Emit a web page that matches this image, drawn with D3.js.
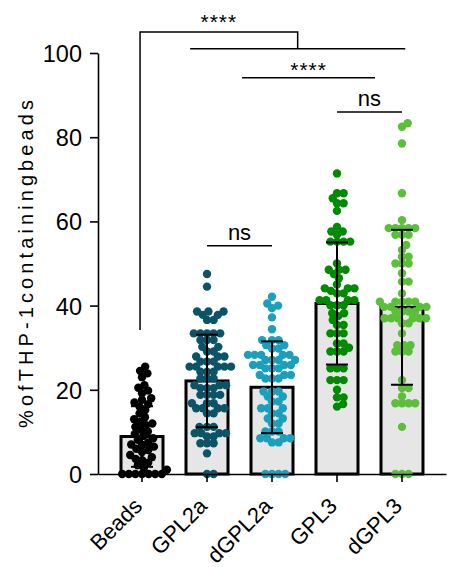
<!DOCTYPE html>
<html>
<head>
<meta charset="utf-8">
<script src="https://cdn.jsdelivr.net/npm/d3@7"></script>
<style>
  html, body { margin: 0; padding: 0; background: #fff; }
  svg { display: block; font-family: "Liberation Sans", Arial, sans-serif; }
</style>
</head>
<body>
<svg id="chart" width="455" height="567"></svg>
<script>
// ---------------- data ----------------
const categories = ["Beads", "GPL2a", "dGPL2a", "GPL3", "dGPL3"];
const colors = ["#000000", "#0b5367", "#1aa0bd", "#008a00", "#5cbf3a"];

const beadsValues = [25.5, 24.5, 23.9, 23.0, 21.1, 20.5, 19.8, 19.2, 18.0, 17.6, 17.0, 16.6,
  16.0, 15.2, 14.4, 13.5, 13.0, 12.4, 12.0, 11.6, 11.2, 10.5, 10.1, 9.5, 9.0, 8.5, 8.1,
  7.5, 7.0, 6.9, 6.5, 6.0, 5.7, 5.2, 4.5, 4.0, 3.6, 3.3, 2.7, 2.1, 1.5, 1.0,
  0, 0, 0, 0, 0, 0, 0];
const gpl2aValues = [47.5, 44.5, 38.6, 38.6, 38.6, 37.8, 37.8, 36.6, 36.6, 33.4, 33.4, 33.4,
  33.4, 33.4, 31.8, 31.8, 31.8, 30.2, 30.2, 29.1, 29.1, 27.9, 27.9, 27.9, 26.7, 26.7, 26.7,
  25.5, 25.5, 25.5, 25.5, 25.5, 24.3, 24.3, 24.3, 22.7, 22.7, 22.7, 21.1, 21.1, 21.1,
  20.4, 20.4, 20.4, 18.8, 18.8, 18.8, 18.8, 16.8, 16.8, 16.8, 15.6, 15.6, 15.6, 15.6,
  14.4, 14.4, 11.2, 11.2, 11.2, 9.7, 9.7, 9.7, 9.7, 8.9, 8.9, 7.3, 7.3, 7.3, 4.9, 0, 0];
const dgpl2aValues = [42.1, 40.5, 40.0, 39.4, 37.2, 34.4, 31.8, 31.8, 31.8, 30.6, 30.6, 29.8,
  29.8, 28.3, 28.3, 28.3, 28.3, 28.3, 27.1, 27.1, 27.1, 27.1, 25.9, 25.9, 25.9, 25.9,
  25.1, 25.1, 25.1, 23.5, 23.5, 23.5, 22.7, 22.7, 22.7, 19.6, 19.6, 19.6, 18.4, 18.4,
  17.2, 17.2, 15.6, 15.6, 15.6, 14.4, 14.4, 13.2, 13.2, 12.0, 12.0, 10.1, 10.1, 10.1,
  8.5, 8.5, 8.5, 8.5, 7.5, 7.5, 0, 0, 0, 0];
const gpl3Values = [71.4, 66.7, 66.7, 65.5, 64.3, 64.3, 62.5, 58.7, 57.6, 57.6, 56.8,
  55.2, 55.2, 55.2, 55.2, 50.0, 48.5, 48.5, 48.5, 47.5, 46.5, 45.0, 44.1, 44.1, 44.1,
  43.5, 42.9, 42.9, 41.3, 41.3, 41.3, 41.3, 40.1, 40.1, 40.1, 38.2, 38.2, 37.5, 36.6,
  35.4, 35.4, 33.4, 33.4, 33.4, 31.0, 31.0, 30.0, 29.1, 29.1, 29.1, 25.1, 25.1, 25.1,
  22.3, 22.3, 22.3, 20.0, 18.2, 18.2, 16.0, 16.6];
const dgpl3Values = [83.3, 82.5, 78.5, 66.7, 60.3, 58.4, 58.4, 58.4, 58.4, 58.4, 56.8, 56.8,
  56.8, 54.4, 53.2, 51.6, 51.6, 50.0, 50.0, 50.0, 47.7, 45.7, 45.7, 42.9, 40.9, 40.9,
  40.9, 40.9, 40.9, 39.7, 39.7, 39.7, 39.7, 38.6, 38.6, 38.6, 38.6, 37.0, 37.0, 37.0,
  37.0, 37.0, 37.0, 35.8, 35.8, 33.4, 30.6, 30.6, 30.6, 29.1, 29.1, 29.1, 22.3, 20.4,
  20.4, 18.4, 16.8, 16.8, 16.8, 16.8, 11.2, 0, 0, 0];
const groupValues = [beadsValues, gpl2aValues, dgpl2aValues, gpl3Values, dgpl3Values];

const barMeans = [8.9, 22.1, 20.6, 40.5, 39.6];
const barSDs = [7.2, 11.0, 10.9, 14.5, 18.4];

const yTicks = [0, 20, 40, 60, 80, 100];
const yLabel = "%ofTHP-1containingbeads";

// comparisons: ends given as (fractional) category indices, level in data units
const pairComparisons = [
  { from: 1.54, to: 3.585, label: "****", level: 94.1 },
  { from: 3, to: 4, label: "ns", level: 86.0 },
  { from: 1, to: 2, label: "ns", level: 54.2 }
];
// Beads vs all other groups
const groupComparison = { ref: -0.03, refLow: 34.2, from: 0.74, to: 4.05, label: "****",
  level: 105.0, groupLevel: 101.0 };

// ---------------- layout ----------------
const svg = d3.select("#chart");
const x = d3.scaleBand().domain(categories).range([98, 446]).paddingInner(0).paddingOuter(0.177);
const y = d3.scaleLinear().domain([0, 100]).range([474, 53]);
const cx = c => x(c) + x.bandwidth() / 2;
const idxX = d3.scaleLinear().domain([0, categories.length - 1])
  .range([cx(categories[0]), cx(categories[categories.length - 1])]);

const barW = 42, capW = 22, dotR = 4.2, swarmD = 6.6;

// bars
svg.append("g").selectAll("rect").data(categories).join("rect")
  .attr("x", d => cx(d) - barW / 2)
  .attr("y", (d, i) => y(barMeans[i]))
  .attr("width", barW)
  .attr("height", (d, i) => y(0) - y(barMeans[i]))
  .attr("fill", "#e6e6e6")
  .attr("stroke", "#000")
  .attr("stroke-width", 3);

// beeswarm
function swarm(vals, center) {
  const pts = vals.map(v => ({ v, py: y(v) })).sort((a, b) => a.v - b.v);
  const placed = [];
  pts.forEach(p => {
    const near = placed.filter(q => Math.abs(q.py - p.py) < swarmD);
    const cands = [0];
    near.forEach(q => {
      const dx = Math.sqrt(swarmD * swarmD - (q.py - p.py) ** 2);
      cands.push(q.dx + dx, q.dx - dx);
    });
    cands.sort((a, b) => Math.abs(a) - Math.abs(b) || b - a);
    let best = 0;
    for (const c of cands) {
      if (near.every(q => Math.hypot(q.dx - c, q.py - p.py) >= swarmD - 1e-6)) { best = c; break; }
    }
    p.dx = best;
    placed.push(p);
  });
  return placed.map(p => ({ x: center + p.dx, y: p.py }));
}

categories.forEach((c, i) => {
  const pts = swarm(groupValues[i], cx(c));
  svg.append("g").selectAll("circle").data(pts).join("circle")
    .attr("cx", d => d.x).attr("cy", d => d.y).attr("r", dotR)
    .attr("fill", colors[i]);
});

// error bars
const eb = svg.append("g").attr("stroke", "#000").attr("stroke-width", 2).attr("fill", "none");
categories.forEach((c, i) => {
  const hi = y(barMeans[i] + barSDs[i]), lo = y(barMeans[i] - barSDs[i]);
  eb.append("line").attr("x1", cx(c)).attr("x2", cx(c)).attr("y1", hi).attr("y2", lo);
  eb.append("line").attr("x1", cx(c) - capW / 2).attr("x2", cx(c) + capW / 2).attr("y1", hi).attr("y2", hi);
  eb.append("line").attr("x1", cx(c) - capW / 2).attr("x2", cx(c) + capW / 2).attr("y1", lo).attr("y2", lo);
});

// axes
const yAxis = svg.append("g").attr("transform", "translate(98,0)")
  .call(d3.axisLeft(y).tickValues(yTicks).tickSize(8).tickPadding(8).tickSizeOuter(0));
const xAxis = svg.append("g").attr("transform", `translate(0,${y(0)})`)
  .call(d3.axisBottom(x).tickSize(8).tickSizeOuter(0));
[yAxis, xAxis].forEach(g => {
  g.selectAll("path, line").attr("stroke", "#000").attr("stroke-width", 1.6);
  g.selectAll("text").attr("fill", "#000")
    .style("font-family", '"Liberation Sans", Arial, sans-serif');
});
yAxis.selectAll("text").attr("dy", "0.36em").style("font-size", "23.5px");
xAxis.selectAll("text")
  .style("font-size", "22px")
  .attr("y", 0).attr("dy", "0.35em")
  .attr("text-anchor", "end")
  .attr("transform", "translate(-4,28) rotate(-45)");

// y label
svg.append("text")
  .attr("transform", "translate(33,264) rotate(-90)")
  .attr("text-anchor", "middle")
  .attr("textLength", 328).attr("lengthAdjust", "spacing")
  .style("font-size", "20px").attr("fill", "#000")
  .text(yLabel);

// significance brackets
const sig = svg.append("g").attr("stroke", "#000").attr("stroke-width", 1.5).attr("fill", "none");
const sigText = svg.append("g").attr("fill", "#000").attr("text-anchor", "middle");
function addLabel(xm, yLine, label) {
  const isStar = label.indexOf("*") >= 0;
  sigText.append("text")
    .attr("x", xm).attr("y", isStar ? yLine - 1 : yLine - 6)
    .style("font-size", isStar ? "21px" : "22px")
    .style("letter-spacing", isStar ? "1px" : "0px")
    .text(label);
}
pairComparisons.forEach(p => {
  const yl = y(p.level);
  sig.append("line").attr("x1", idxX(p.from)).attr("x2", idxX(p.to))
    .attr("y1", yl).attr("y2", yl);
  addLabel((idxX(p.from) + idxX(p.to)) / 2, yl, p.label);
});
{
  const g = groupComparison;
  const gx1 = idxX(g.from), gx2 = idxX(g.to);
  const gm = (gx1 + gx2) / 2;
  const rx = idxX(g.ref);
  sig.append("line").attr("x1", gx1).attr("x2", gx2)
    .attr("y1", y(g.groupLevel)).attr("y2", y(g.groupLevel));
  sig.append("path").attr("d",
    `M${rx},${y(g.refLow)}V${y(g.level)}H${gm}V${y(g.groupLevel)}`);
  addLabel((rx + gm) / 2, y(g.level) - 2, g.label);
}
</script>
</body>
</html>
